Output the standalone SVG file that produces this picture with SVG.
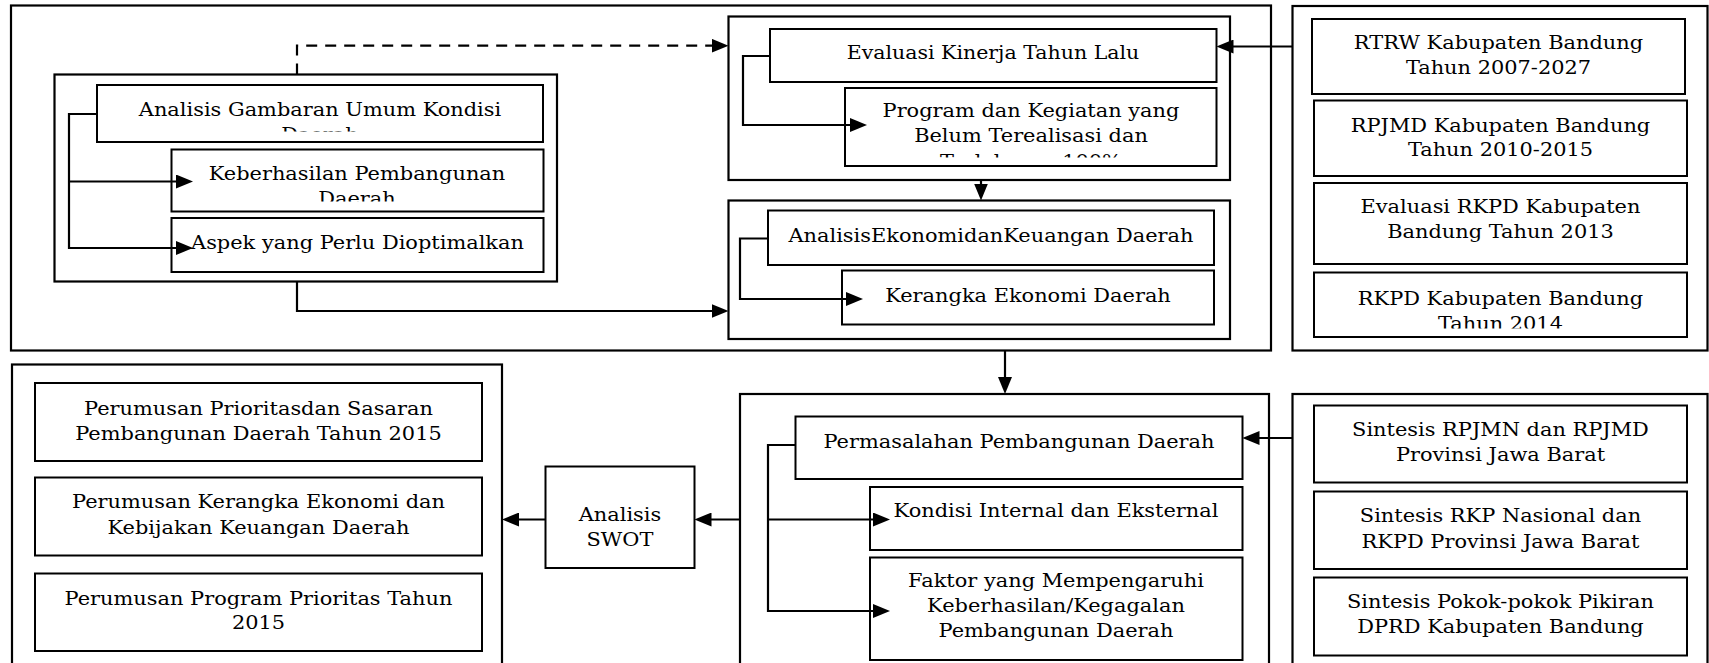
<svg xmlns="http://www.w3.org/2000/svg" width="1709" height="663" viewBox="0 0 1709 663">
<style>
.outer{fill:#fff;stroke:#000;stroke-width:2.2}
.box{fill:#fff;stroke:#000;stroke-width:2}
.t{font-family:"DejaVu Serif","Liberation Serif",serif;font-size:19px;text-anchor:middle;fill:#000}
.c{fill:none;stroke:#000;stroke-width:2.2}
.d{stroke-dasharray:11,8}
</style>
<defs>
<marker id="ah" markerUnits="userSpaceOnUse" markerWidth="17" markerHeight="14" refX="9" refY="7" orient="auto">
<path d="M0,0 L17,7 L0,14 Z" fill="#000"/>
</marker>
<clipPath id="cAG"><rect x="97" y="85" width="446" height="46.5"/></clipPath>
<clipPath id="cKeb"><rect x="171.5" y="149.5" width="372" height="52"/></clipPath>
<clipPath id="cProg"><rect x="845" y="88" width="371.5" height="69.5"/></clipPath>
<clipPath id="cRKPD"><rect x="1314" y="272.5" width="373" height="56"/></clipPath>
</defs>

<g id="top-frame"><rect class="outer" x="11" y="5.5" width="1260" height="345"/></g>

<g id="gambaran-umum">
<rect class="outer" x="54.5" y="74.5" width="502.5" height="207"/>
</g>
<g id="analisis-gambaran">
<rect class="box" x="97" y="85" width="446" height="57"/>
<g clip-path="url(#cAG)"><text class="t" transform="matrix(1.1,0,0,1,-32,0)"><tspan x="320" y="116">Analisis Gambaran Umum Kondisi</tspan><tspan x="320" y="141">Daerah</tspan></text></g>
</g>
<g id="keberhasilan">
<rect class="box" x="171.5" y="149.5" width="372" height="62"/>
<g clip-path="url(#cKeb)"><text class="t" transform="matrix(1.1,0,0,1,-35.7,0)"><tspan x="357" y="180">Keberhasilan Pembangunan</tspan><tspan x="357" y="205">Daerah</tspan></text></g>
</g>
<g id="aspek">
<rect class="box" x="171.5" y="218" width="372" height="54"/>
<text class="t" transform="matrix(1.1,0,0,1,-35.75,0)" x="357.5" y="249">Aspek yang Perlu Dioptimalkan</text>
</g>

<g id="evaluasi-group"><rect class="outer" x="728.5" y="16.5" width="501.5" height="163.5"/></g>
<g id="evaluasi-kinerja">
<rect class="box" x="770" y="29" width="446.5" height="53"/>
<text class="t" transform="matrix(1.08,0,0,1,-79.44,0)" x="993" y="59.5">Evaluasi Kinerja Tahun Lalu</text>
</g>
<g id="program-kegiatan">
<rect class="box" x="845" y="88" width="371.5" height="78"/>
<g clip-path="url(#cProg)"><text class="t" transform="matrix(1.1,0,0,1,-103.1,0)"><tspan x="1031" y="117.5">Program dan Kegiatan yang</tspan><tspan x="1031" y="142.5">Belum Terealisasi dan</tspan><tspan x="1031" y="168">Terlaksana 100%</tspan></text></g>
</g>

<g id="ekonomi-group"><rect class="outer" x="728.5" y="200.5" width="501.5" height="138.5"/></g>
<g id="analisis-ekonomi">
<rect class="box" x="768" y="210.5" width="446" height="54.5"/>
<text class="t" transform="matrix(1.1,0,0,1,-99.1,0)" x="991" y="242">AnalisisEkonomidanKeuangan Daerah</text>
</g>
<g id="kerangka-ekonomi">
<rect class="box" x="842" y="270.5" width="372" height="54"/>
<text class="t" transform="matrix(1.1,0,0,1,-102.8,0)" x="1028" y="302">Kerangka Ekonomi Daerah</text>
</g>

<g id="dokumen-group"><rect class="outer" x="1292.5" y="6" width="415" height="344.5"/></g>
<g id="rtrw">
<rect class="box" x="1312" y="19" width="373" height="75"/>
<text class="t" transform="matrix(1.1,0,0,1,-149.85,0)"><tspan x="1498.5" y="49.5">RTRW Kabupaten Bandung</tspan><tspan x="1498.5" y="74">Tahun 2007-2027</tspan></text>
</g>
<g id="rpjmd">
<rect class="box" x="1314" y="100.5" width="373" height="75.5"/>
<text class="t" transform="matrix(1.1,0,0,1,-150.05,0)"><tspan x="1500.5" y="132">RPJMD Kabupaten Bandung</tspan><tspan x="1500.5" y="156.5">Tahun 2010-2015</tspan></text>
</g>
<g id="evaluasi-rkpd">
<rect class="box" x="1314" y="183" width="373" height="81"/>
<text class="t" transform="matrix(1.1,0,0,1,-150.05,0)"><tspan x="1500.5" y="213.5">Evaluasi RKPD Kabupaten</tspan><tspan x="1500.5" y="238.5">Bandung Tahun 2013</tspan></text>
</g>
<g id="rkpd">
<rect class="box" x="1314" y="272.5" width="373" height="64.5"/>
<g clip-path="url(#cRKPD)"><text class="t" transform="matrix(1.1,0,0,1,-150.05,0)"><tspan x="1500.5" y="305">RKPD Kabupaten Bandung</tspan><tspan x="1500.5" y="330.5">Tahun 2014</tspan></text></g>
</g>

<g id="perumusan-group"><rect class="outer" x="12" y="364.5" width="490" height="310"/></g>
<g id="perumusan-prioritas">
<rect class="box" x="35" y="383" width="447" height="78"/>
<text class="t" transform="matrix(1.1,0,0,1,-25.85,0)"><tspan x="258.5" y="415">Perumusan Prioritasdan Sasaran</tspan><tspan x="258.5" y="440.5">Pembangunan Daerah Tahun 2015</tspan></text>
</g>
<g id="perumusan-kerangka">
<rect class="box" x="35" y="477.5" width="447" height="78"/>
<text class="t" transform="matrix(1.1,0,0,1,-25.85,0)"><tspan x="258.5" y="508.5">Perumusan Kerangka Ekonomi dan</tspan><tspan x="258.5" y="534">Kebijakan Keuangan Daerah</tspan></text>
</g>
<g id="perumusan-program">
<rect class="box" x="35" y="573.5" width="447" height="77.5"/>
<text class="t" transform="matrix(1.1,0,0,1,-25.85,0)"><tspan x="258.5" y="605">Perumusan Program Prioritas Tahun</tspan><tspan x="258.5" y="629">2015</tspan></text>
</g>

<g id="swot">
<rect class="box" x="545.5" y="466.5" width="149" height="101.5"/>
<text class="t" transform="matrix(1.1,0,0,1,-62,0)"><tspan x="620" y="521.5">Analisis</tspan><tspan x="620" y="546.5">SWOT</tspan></text>
</g>

<g id="permasalahan-group"><rect class="outer" x="740" y="394" width="529" height="280"/></g>
<g id="permasalahan">
<rect class="box" x="795.5" y="416.5" width="447" height="62.5"/>
<text class="t" transform="matrix(1.1,0,0,1,-101.9,0)" x="1019" y="448.5">Permasalahan Pembangunan Daerah</text>
</g>
<g id="kondisi">
<rect class="box" x="870" y="487" width="372.5" height="63"/>
<text class="t" transform="matrix(1.1,0,0,1,-105.6,0)" x="1056" y="517.5">Kondisi Internal dan Eksternal</text>
</g>
<g id="faktor">
<rect class="box" x="870" y="557.5" width="372.5" height="102.5"/>
<text class="t" transform="matrix(1.1,0,0,1,-105.6,0)"><tspan x="1056" y="587.5">Faktor yang Mempengaruhi</tspan><tspan x="1056" y="612.5">Keberhasilan/Kegagalan</tspan><tspan x="1056" y="637.5">Pembangunan Daerah</tspan></text>
</g>

<g id="sintesis-group"><rect class="outer" x="1292.5" y="394" width="415" height="280"/></g>
<g id="sintesis-rpjmn">
<rect class="box" x="1314" y="405.5" width="373" height="77"/>
<text class="t" transform="matrix(1.1,0,0,1,-150.05,0)"><tspan x="1500.5" y="436">Sintesis RPJMN dan RPJMD</tspan><tspan x="1500.5" y="461">Provinsi Jawa Barat</tspan></text>
</g>
<g id="sintesis-rkp">
<rect class="box" x="1314" y="491.5" width="373" height="77.5"/>
<text class="t" transform="matrix(1.1,0,0,1,-150.05,0)"><tspan x="1500.5" y="522.5">Sintesis RKP Nasional dan</tspan><tspan x="1500.5" y="548">RKPD Provinsi Jawa Barat</tspan></text>
</g>
<g id="sintesis-pokok">
<rect class="box" x="1314" y="577.5" width="373" height="78"/>
<text class="t" transform="matrix(1.1,0,0,1,-150.05,0)"><tspan x="1500.5" y="608.5">Sintesis Pokok-pokok Pikiran</tspan><tspan x="1500.5" y="633.5">DPRD Kabupaten Bandung</tspan></text>
</g>

<g id="connectors">
<path class="c d" d="M297,74.5 V45.7 H720.5" marker-end="url(#ah)"/>
<path class="c" d="M297,281.5 V311 H720.5" marker-end="url(#ah)"/>
<path class="c" d="M97,114 H69 V248 H185" marker-end="url(#ah)"/>
<path class="c" d="M69,181.5 H185" marker-end="url(#ah)"/>
<path class="c" d="M770,56 H743 V125 H859" marker-end="url(#ah)"/>
<path class="c" d="M981,180 V192.5" marker-end="url(#ah)"/>
<path class="c" d="M768,238.5 H740 V299 H855" marker-end="url(#ah)"/>
<path class="c" d="M1292.5,46.5 H1224.5" marker-end="url(#ah)"/>
<path class="c" d="M1005,350.5 V386" marker-end="url(#ah)"/>
<path class="c" d="M1292.5,438 H1250.5" marker-end="url(#ah)"/>
<path class="c" d="M795.5,445 H768 V611 H882" marker-end="url(#ah)"/>
<path class="c" d="M768,519.5 H882" marker-end="url(#ah)"/>
<path class="c" d="M740,519.5 H702.5" marker-end="url(#ah)"/>
<path class="c" d="M545.5,519.5 H510" marker-end="url(#ah)"/>
</g>
</svg>
